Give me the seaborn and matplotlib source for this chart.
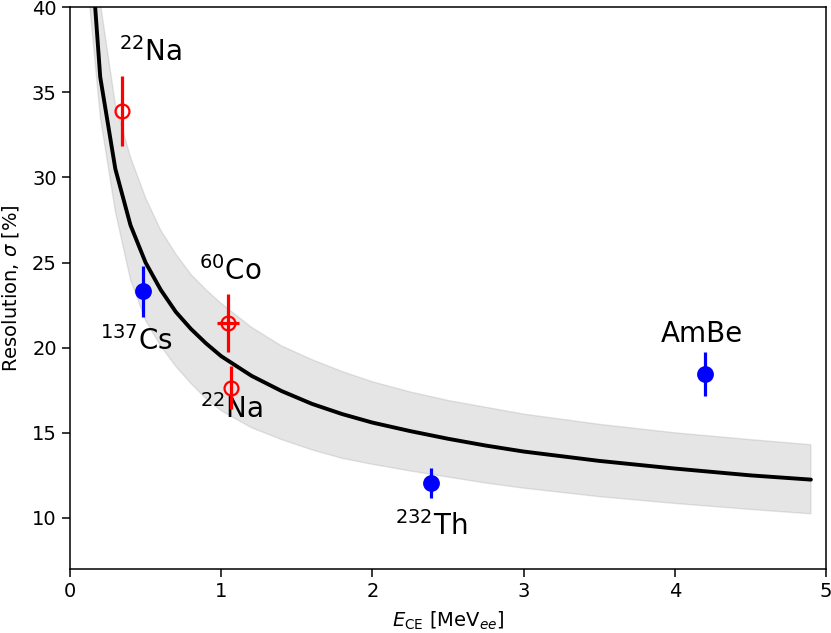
import numpy as np
import pandas as pd
import matplotlib
matplotlib.use("Agg")
import matplotlib.pyplot as plt
import seaborn as sns

sns.set_style("ticks")
plt.rcParams['font.family'] = ['DejaVu Sans']
plt.rcParams['mathtext.fontset'] = 'dejavusans'
plt.rcParams['text.color'] = 'black'
plt.rcParams['axes.labelcolor'] = 'black'
plt.rcParams['xtick.color'] = 'black'
plt.rcParams['ytick.color'] = 'black'

# fitted resolution curve with its band
fit_E = [0.1, 0.2, 0.3, 0.4, 0.5, 0.6, 0.7, 0.8, 0.9, 1.0, 1.2, 1.4, 1.6, 1.8,
         2.0, 2.25, 2.5, 2.75, 3.0, 3.5, 4.0, 4.5, 4.9]
fit_sigma = [48.2, 35.9, 30.5, 27.2, 25.0, 23.4, 22.1, 21.1, 20.25, 19.5, 18.35,
             17.45, 16.7, 16.1, 15.6, 15.1, 14.65, 14.25, 13.9, 13.35, 12.9,
             12.5, 12.25]
band_hi = [54.0, 40.3, 34.3, 31.2, 28.8, 26.9, 25.5, 24.3, 23.4, 22.6, 21.2,
           20.1, 19.3, 18.6, 18.0, 17.4, 16.9, 16.5, 16.1, 15.5, 15.0, 14.6, 14.3]
band_lo = [43.0, 33.6, 28.0, 24.0, 21.6, 20.1, 18.9, 17.9, 17.0, 16.3, 15.3,
           14.6, 14.0, 13.5, 13.15, 12.76, 12.4, 12.05, 11.75, 11.25, 10.85,
           10.5, 10.24]

# calibration sources
src_names = ['$^{22}$Na', '$^{137}$Cs', '$^{60}$Co', '$^{22}$Na', '$^{232}$Th', 'AmBe']
src_E = [0.345, 0.483, 1.045, 1.065, 2.39, 4.2]
src_sigma = [33.9, 23.3, 21.45, 17.65, 12.05, 18.45]
src_err = [2.05, 1.5, 1.7, 1.25, 0.9, 1.3]
src_xerr = [0, 0, 0.075, 0, 0, 0]
src_filled = [False, True, False, False, True, True]
label_E = [0.53, 0.44, 1.06, 1.07, 2.39, 4.18]
label_sigma = [37.35, 20.4, 24.5, 16.4, 9.5, 20.8]

fit = pd.DataFrame({'E': fit_E, 'sigma': fit_sigma, 'hi': band_hi, 'lo': band_lo})
src = pd.DataFrame({'name': src_names, 'E': src_E, 'sigma': src_sigma,
                    'err': src_err, 'xerr': src_xerr, 'filled': src_filled})

fig = plt.figure(figsize=(8.31, 6.33), dpi=100)
ax = fig.add_axes([0.0842, 0.1011, 0.9098, 0.8876])

ax.fill_between(fit['E'], fit['lo'], fit['hi'], color='gray', alpha=0.2, lw=1)
sns.lineplot(data=fit, x='E', y='sigma', color='black', lw=2.8, ax=ax,
             estimator=None, sort=False)

for _, r in src.iterrows():
    col = 'blue' if r['filled'] else 'red'
    ax.errorbar(r['E'], r['sigma'], yerr=r['err'],
                xerr=r['xerr'] if r['xerr'] > 0 else None,
                fmt='o', color=col, ms=10.5 if r['filled'] else 10,
                mfc=col if r['filled'] else 'none', mew=1.6, elinewidth=2.3,
                capsize=0, zorder=5)

for n, x, y in zip(src_names, label_E, label_sigma):
    ax.text(x, y, n, fontsize=20, ha='center', va='center')

ax.set_xlim(0, 5)
ax.set_ylim(7, 40)
ax.set_xticks([0, 1, 2, 3, 4, 5])
ax.set_yticks([10, 15, 20, 25, 30, 35, 40])
ax.tick_params(labelsize=14, length=6, width=1.1, color='black')
for s in ax.spines.values():
    s.set_visible(True)
    s.set_color('black')
    s.set_linewidth(1.1)
ax.set_xlabel(r'$E_{\rm CE}$ [MeV$_{ee}$]', fontsize=14)
ax.set_ylabel(r'Resolution, $\sigma$ [%]', fontsize=14)
ax.yaxis.set_label_coords(-0.065, 0.5)
ax.xaxis.set_label_coords(0.5, -0.072)

fig.savefig('out.png', dpi=100)
